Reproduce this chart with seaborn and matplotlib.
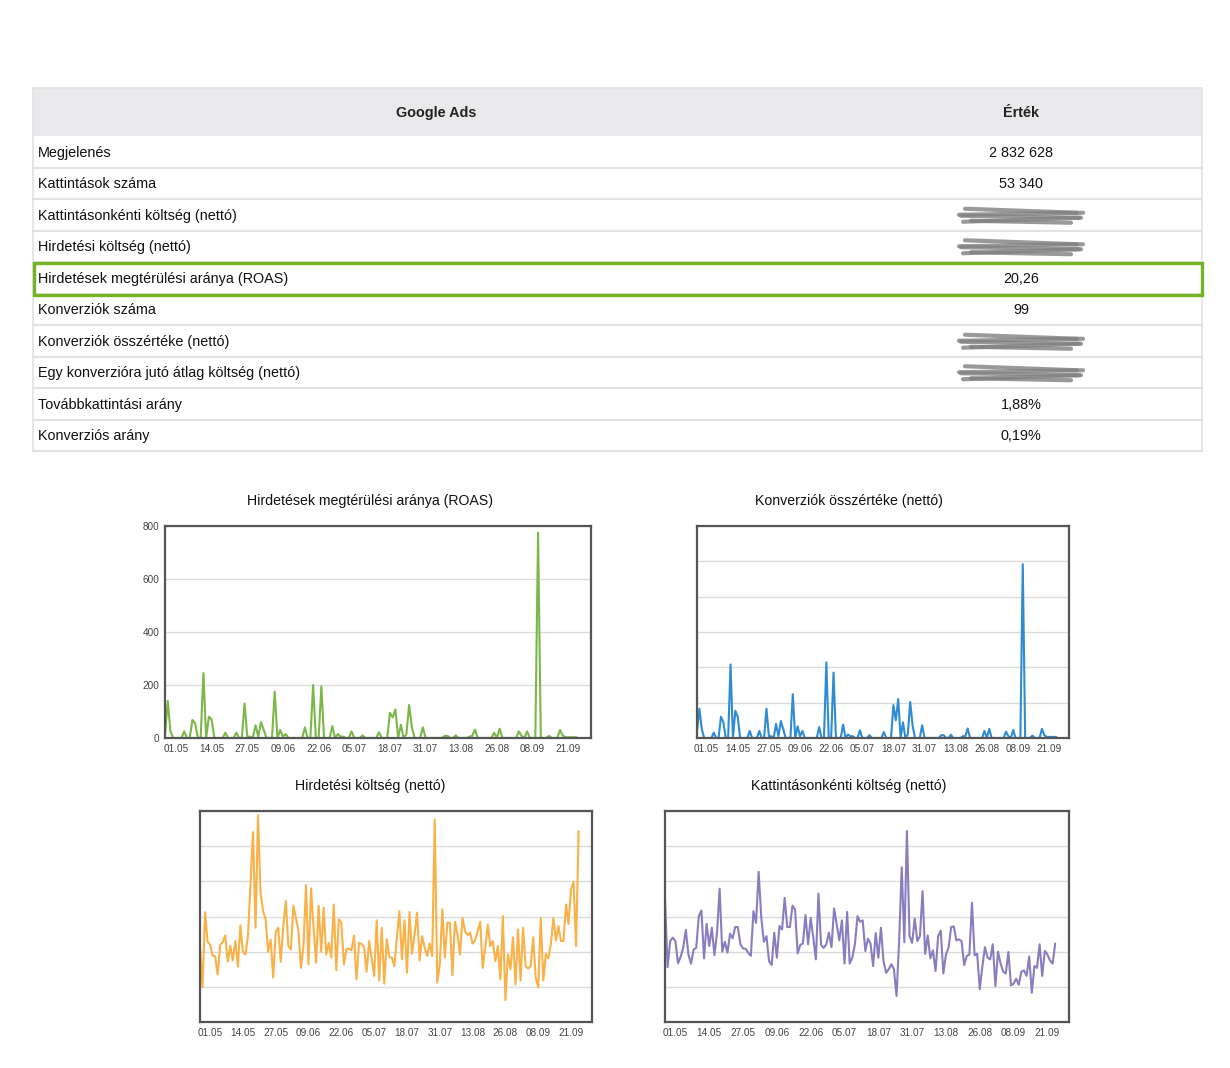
import numpy as np
import pandas as pd
import matplotlib
matplotlib.use('Agg')
import matplotlib.pyplot as plt
from matplotlib.patches import Rectangle
import seaborn as sns

# táblázat adatai
table_header = ['Google Ads', 'Érték']
row_labels = ['Megjelenés', 'Kattintások száma', 'Kattintásonkénti költség (nettó)',
              'Hirdetési költség (nettó)', 'Hirdetések megtérülési aránya (ROAS)',
              'Konverziók száma', 'Konverziók összértéke (nettó)',
              'Egy konverzióra jutó átlag költség (nettó)', 'Továbbkattintási arány',
              'Konverziós arány']
row_values = ['2 832 628', '53 340', None, None, '20,26', '99', None, None, '1,88%', '0,19%']
highlight_row = 4

# napi adatok 27.04 - 24.09 (151 nap)
start_date = '2023-04-27'
tick_labels = ['01.05', '14.05', '27.05', '09.06', '22.06', '05.07', '18.07',
               '31.07', '13.08', '26.08', '08.09', '21.09']

roas = [10, 140, 25, 0, 0, 0, 0, 25, 0, 0,
        68, 55, 0, 0, 245, 0, 80, 70, 0, 0,
        0, 0, 20, 0, 0, 0, 20, 0, 0, 130,
        5, 5, 0, 48, 5, 60, 30, 0, 0, 0,
        175, 0, 30, 5, 15, 0, 0, 0, 0, 0,
        0, 40, 0, 0, 200, 0, 0, 195, 0, 0,
        0, 45, 0, 15, 5, 5, 0, 0, 25, 0,
        0, 0, 10, 0, 0, 0, 0, 0, 22, 0,
        0, 0, 95, 78, 108, 0, 50, 0, 15, 125,
        40, 0, 0, 0, 40, 0, 0, 0, 0, 0,
        0, 0, 8, 8, 0, 0, 10, 0, 0, 0,
        0, 5, 8, 32, 0, 0, 0, 0, 0, 0,
        20, 0, 35, 0, 0, 0, 0, 0, 0, 25,
        8, 0, 25, 0, 0, 0, 775, 0, 0, 0,
        8, 0, 0, 0, 30, 10, 3, 3, 3, 3,
        3]

konv_ertek = [20, 83, 25, 0, 0, 0, 0, 15, 0, 0,
              60, 45, 0, 0, 208, 0, 77, 60, 0, 0,
              0, 0, 20, 0, 0, 0, 20, 0, 0, 83,
              5, 5, 0, 40, 5, 48, 25, 0, 0, 0,
              124, 0, 33, 5, 20, 0, 0, 0, 0, 0,
              0, 31, 0, 0, 214, 0, 0, 185, 0, 0,
              0, 38, 0, 10, 5, 5, 0, 0, 22, 0,
              0, 0, 8, 0, 0, 0, 0, 0, 17, 0,
              0, 0, 93, 50, 110, 0, 44, 0, 10, 102,
              35, 0, 0, 0, 36, 0, 0, 0, 0, 0,
              0, 0, 8, 8, 0, 0, 9, 0, 0, 0,
              0, 5, 5, 27, 0, 0, 0, 0, 0, 0,
              20, 0, 26, 0, 0, 0, 0, 0, 0, 18,
              5, 0, 23, 0, 0, 0, 492, 0, 0, 0,
              7, 0, 0, 0, 26, 8, 3, 3, 3, 3,
              3]

koltseg = [216, 99, 312, 228, 220, 189, 187, 135, 220, 227,
           246, 171, 216, 175, 230, 157, 275, 200, 192, 244,
           391, 540, 268, 588, 367, 315, 292, 200, 234, 126,
           256, 268, 171, 273, 344, 216, 206, 331, 296, 259,
           154, 216, 389, 164, 380, 268, 169, 331, 200, 325,
           192, 225, 183, 334, 147, 292, 282, 164, 206, 209,
           204, 246, 121, 225, 222, 213, 143, 230, 183, 131,
           289, 118, 268, 109, 235, 185, 183, 159, 240, 315,
           178, 289, 140, 313, 194, 249, 311, 175, 244, 211,
           188, 223, 188, 576, 112, 164, 320, 183, 282, 282,
           133, 285, 249, 192, 296, 258, 247, 254, 223, 232,
           258, 285, 154, 211, 277, 216, 230, 173, 216, 121,
           301, 62, 192, 150, 241, 107, 263, 118, 268, 159,
           152, 159, 241, 126, 98, 296, 118, 194, 181, 221,
           296, 232, 273, 230, 230, 334, 279, 377, 399, 216,
           543]

cpc = [348, 156, 230, 240, 230, 167, 185, 211, 262, 192,
       166, 206, 211, 301, 317, 181, 279, 216, 268, 190,
       254, 379, 200, 228, 197, 251, 238, 270, 270, 221,
       209, 208, 197, 188, 315, 282, 427, 298, 228, 244,
       173, 162, 254, 183, 273, 263, 353, 270, 270, 331,
       320, 195, 219, 223, 304, 221, 296, 240, 178, 365,
       219, 211, 221, 254, 213, 323, 277, 232, 289, 166,
       313, 166, 183, 221, 301, 285, 289, 202, 237, 223,
       159, 253, 183, 268, 173, 140, 150, 164, 150, 74,
       230, 440, 227, 543, 244, 225, 294, 230, 244, 372,
       194, 246, 181, 204, 145, 244, 260, 138, 192, 211,
       270, 272, 232, 235, 230, 162, 188, 192, 339, 190,
       194, 93, 159, 213, 183, 178, 221, 102, 200, 166,
       143, 138, 199, 104, 109, 123, 106, 143, 147, 131,
       186, 83, 159, 154, 221, 131, 202, 192, 175, 166,
       223]

W, H = 1230, 1068
sns.set_style('white')
plt.rcParams['font.family'] = ['Liberation Sans', 'DejaVu Sans']

fig = plt.figure(figsize=(W / 100, H / 100), dpi=100)

# ---- táblázat (pixel koordinátákban) ----
tab = fig.add_axes([0, 0, 1, 1])
tab.set_xlim(0, W)
tab.set_ylim(H, 0)
tab.axis('off')

t_left, t_right, t_top, head_bottom = 33, 1202, 88, 136
row_h = 31.5
val_x = 1021
line_col = '#e2e2e2'
fs_tab = 10.4

tab.add_patch(Rectangle((t_left, t_top), t_right - t_left, head_bottom - t_top,
                        facecolor='#e9e9ec', edgecolor='none'))
tab.text((t_left + 840) / 2, (t_top + head_bottom) / 2 + 1, table_header[0],
         ha='center', va='center', fontsize=fs_tab, fontweight='bold', color='#222')
tab.text(val_x, (t_top + head_bottom) / 2 + 1, table_header[1],
         ha='center', va='center', fontsize=fs_tab, fontweight='bold', color='#222')

for i, (lab, val) in enumerate(zip(row_labels, row_values)):
    y0 = head_bottom + i * row_h
    yc = y0 + row_h / 2 + 1
    tab.plot([t_left, t_right], [y0 + row_h, y0 + row_h], color=line_col, lw=1.5)
    tab.text(38, yc, lab, ha='left', va='center', fontsize=fs_tab, color='#111')
    if val is not None:
        tab.text(val_x, yc, val, ha='center', va='center', fontsize=fs_tab, color='#111')
    else:
        # kitakart érték
        for dy, w, s in [(-5, 56, 2), (-2, 62, -1), (1, 60, 1), (4, 58, -2), (6, 50, 1)]:
            tab.plot([val_x - w, val_x + w], [yc + dy - s, yc + dy + s],
                     color='#808080', lw=3.0, alpha=0.8, solid_capstyle='round')

table_bottom = head_bottom + len(row_labels) * row_h
tab.add_patch(Rectangle((t_left, t_top), t_right - t_left, table_bottom - t_top,
                        facecolor='none', edgecolor=line_col, lw=1.2))
hy = head_bottom + highlight_row * row_h
tab.add_patch(Rectangle((t_left + 1, hy + 1), t_right - t_left - 1, row_h,
                        facecolor='none', edgecolor='#72b424', lw=2.4, zorder=5))

# ---- grafikonok ----
dates = pd.date_range(start_date, periods=len(roas), freq='D')
ticks = pd.to_datetime([t + '.2023' for t in tick_labels], format='%d.%m.%Y')
x_end = dates[0] + pd.Timedelta(days=155.3)


def box(left, top, right, bottom):
    return fig.add_axes([left / W, 1 - bottom / H, (right - left) / W, (bottom - top) / H])


charts = [
    (box(165, 526, 591, 738), roas, '#7cb749', 'Hirdetések megtérülési aránya (ROAS)', 370, 501, 800),
    (box(697, 526, 1069, 738), konv_ertek, '#2f8bd3', 'Konverziók összértéke (nettó)', 849, 501, 600),
    (box(200, 811, 592, 1022), koltseg, '#f9b148', 'Hirdetési költség (nettó)', 370, 786, 600),
    (box(665, 811, 1069, 1022), cpc, '#8a7dbf', 'Kattintásonkénti költség (nettó)', 849, 786, 600),
]

for ax, vals, col, title, tx, ty, ymax in charts:
    df = pd.DataFrame({'datum': dates, 'ertek': vals})
    sns.lineplot(data=df, x='datum', y='ertek', ax=ax, color=col, linewidth=1.5)
    ax.set_xlim(dates[0], x_end)
    ax.set_ylim(0, ymax)
    ax.set_xticks(ticks)
    ax.set_xticklabels(tick_labels)
    if ymax == 800:
        ax.set_yticks([0, 200, 400, 600, 800])
        ax.set_yticklabels(['0', '200', '400', '600', '800'])
    else:
        ax.set_yticks(np.arange(0, 601, 100))
        ax.set_yticklabels([])
    ax.set_xlabel('')
    ax.set_ylabel('')
    ax.yaxis.grid(True, color='#dcdcdc', lw=1)
    ax.xaxis.grid(False)
    ax.set_axisbelow(True)
    ax.tick_params(axis='both', length=0, labelsize=7.2, colors='#444', pad=4)
    for sp in ax.spines.values():
        sp.set_visible(True)
        sp.set_color('#555555')
        sp.set_linewidth(1.6)
    fig.text(tx / W, 1 - ty / H, title, ha='center', va='center', fontsize=10.2, color='#111')

fig.savefig('out.png', dpi=100)
